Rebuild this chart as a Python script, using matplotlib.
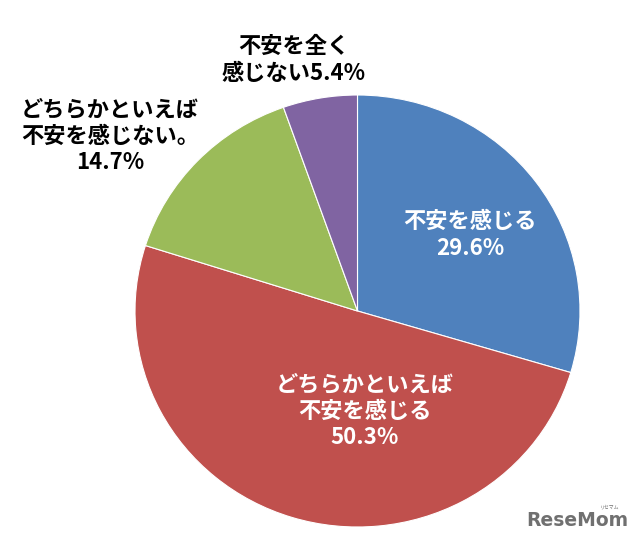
import matplotlib
matplotlib.use("Agg")
import matplotlib.pyplot as plt

# slice data (clockwise from top)
labels = ["不安を感じる\n29.6%", "どちらかといえば\n不安を感じる\n50.3%",
          "どちらかといえば\n不安を感じない。\n14.7%", "不安を全く\n感じない5.4%"]
values = [29.6, 50.3, 14.7, 5.4]
colors = ["#4F81BD", "#C0504D", "#9BBB59", "#8064A2"]

plt.rcParams["font.family"] = ["Noto Sans CJK JP", "DejaVu Sans"]

fig = plt.figure(figsize=(6.4, 5.47), dpi=100)
W, H = 640, 547
left, right, top, bottom = 135, 580, 95, 527
ax = fig.add_axes([left / W, (H - bottom) / H, (right - left) / W, (bottom - top) / H])
ax.pie(values, colors=colors, startangle=90, counterclock=False,
       wedgeprops={"edgecolor": "white", "linewidth": 0.8})
ax.set_xlim(-1, 1)
ax.set_ylim(-1, 1)
ax.set_aspect("auto")
ax.axis("off")

def place(text, px, py, color):
    fig.text(px / W, 1 - py / H, text, ha="center", va="center", color=color,
             fontsize=16, fontweight="bold", linespacing=1.2)

place(labels[0], 470, 235, "white")
place(labels[1], 365, 411, "white")
place(labels[2], 110, 136, "black")
place(labels[3], 294, 60, "black")

fig.text(577 / W, 1 - 521 / H, "ReseMom", ha="center", va="center",
         color="#707070", fontsize=13.5, fontweight="bold", family="DejaVu Sans")
fig.text(610 / W, 1 - 507 / H, "リセマム", ha="center", va="center",
         color="#707070", fontsize=3.5)

fig.savefig("out.png", dpi=100)
